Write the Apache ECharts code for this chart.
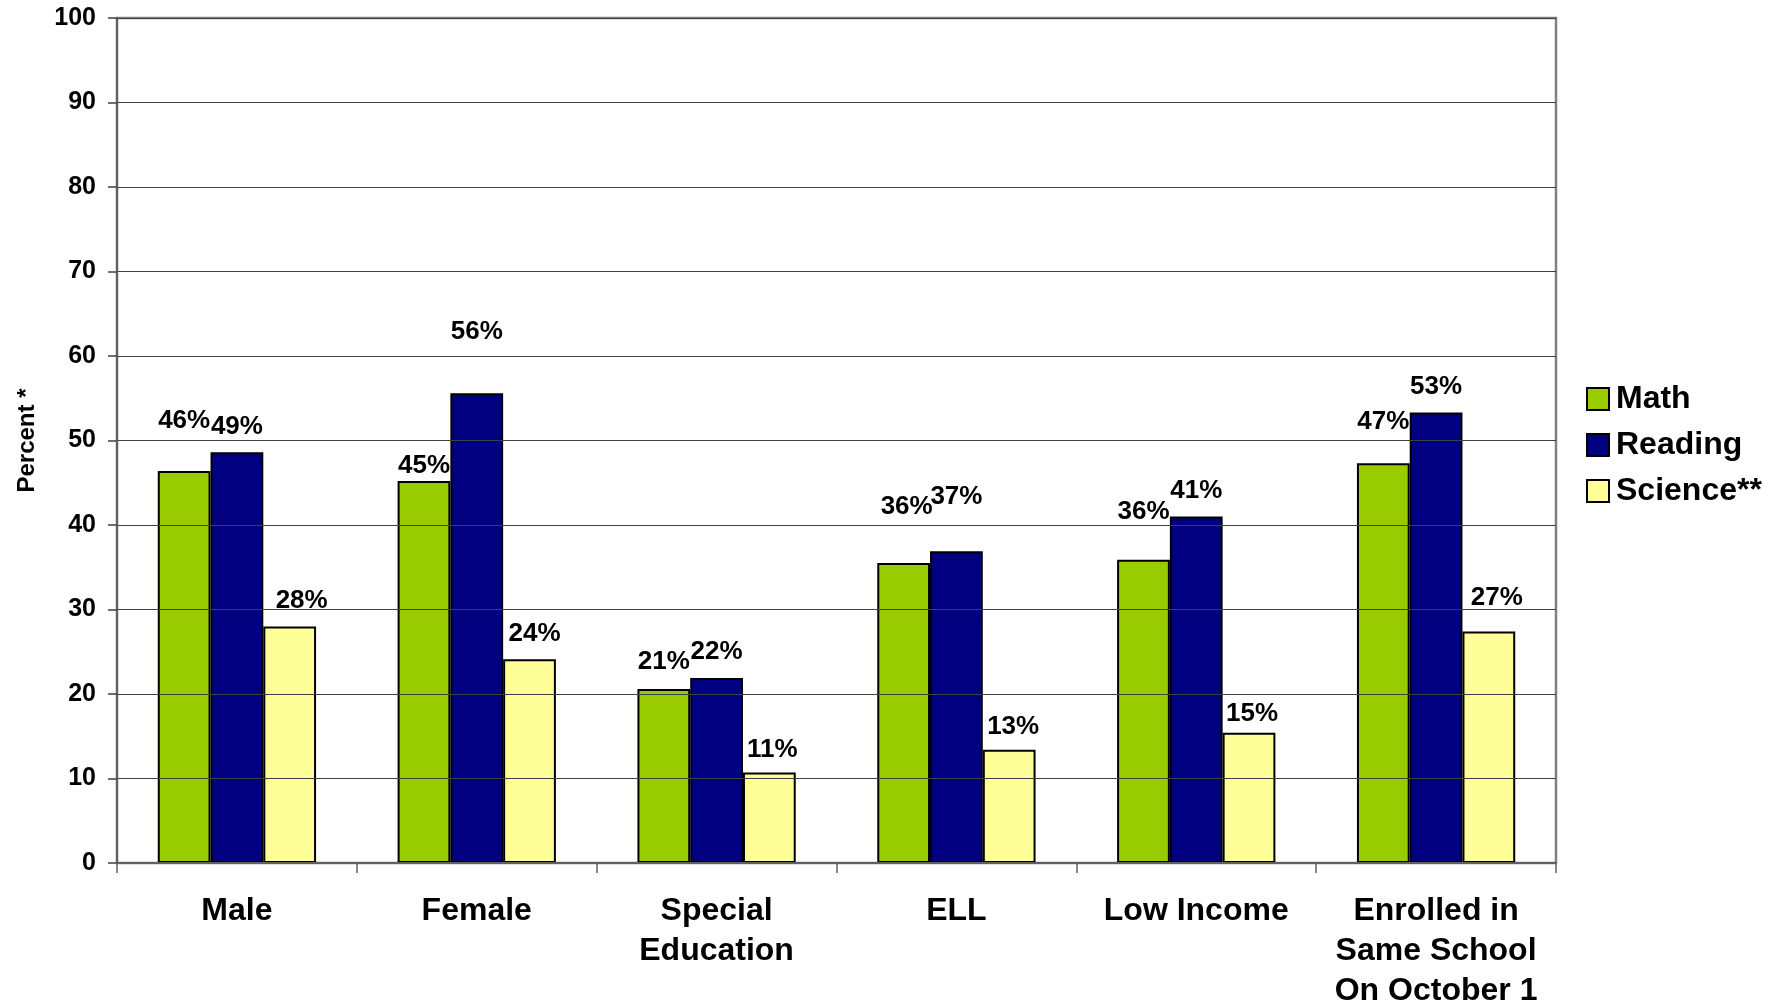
<!DOCTYPE html>
<html>
<head>
<meta charset="utf-8">
<script src="https://cdn.jsdelivr.net/npm/echarts@6/dist/echarts.min.js"></script>
<style>
html,body{margin:0;padding:0;background:#fff;}
#chart{width:1780px;height:1006px;}
</style>
</head>
<body>
<div id="chart"></div>
<script>
// ---- data ----
var categories = ['Male', 'Female', 'Special\nEducation', 'ELL', 'Low Income', 'Enrolled in\nSame School\nOn October 1'];
var seriesNames = ['Math', 'Reading', 'Science**'];
var mathValues = [46.4, 45.2, 20.6, 35.5, 35.9, 47.3];
var readingValues = [48.6, 55.6, 21.9, 36.9, 41.0, 53.3];
var scienceValues = [28.0, 24.1, 10.7, 13.4, 15.4, 27.4];
var yTicks = [0, 10, 20, 30, 40, 50, 60, 70, 80, 90, 100];

// ---- styles (label nudges, pixels) ----
var colors = ['#99CC00', '#000080', '#FFFF99'];
var labelRaise = [
  [24, -11, 1, 30, 22, 15],
  [0, 35, 0, 28, 0, 0],
  [0, 0, -3, -3, -7, 8]
];
var labelShift = [
  [0, 0, 0, 3, 0, 0],
  [0, 0, 0, 0, 0, 0],
  [12, 5, 3, 4, 3, 8]
];

var FONT = '"Liberation Sans", Arial, sans-serif';
var allValues = [mathValues, readingValues, scienceValues];

var series = allValues.map(function (vals, si) {
  return {
    name: seriesNames[si],
    type: 'bar',
    barGap: '0%',
    barCategoryGap: '34%',
    itemStyle: { color: colors[si], borderColor: '#000', borderWidth: 2 },
    label: {
      show: true,
      position: 'top',
      distance: 13,
      color: '#000',
      fontFamily: FONT,
      fontWeight: 'bold',
      fontSize: 26,
      formatter: function (p) { return Math.round(p.value) + '%'; }
    },
    data: vals.map(function (v, i) {
      return { value: v, label: { offset: [labelShift[si][i], -labelRaise[si][i]] } };
    }),
    z: 3
  };
});

var chart = echarts.init(document.getElementById('chart'), null, { renderer: 'canvas' });
chart.setOption({
  backgroundColor: '#fff',
  animation: false,
  textStyle: { fontFamily: FONT },
  grid: {
    left: 117, right: 224, top: 18, bottom: 143,
    containLabel: false,
    outerBoundsMode: 'none',
    show: true, borderColor: '#808080', borderWidth: 2.5, backgroundColor: 'transparent'
  },
  legend: {
    orient: 'vertical',
    left: 1581,
    top: 378,
    icon: 'rect',
    itemWidth: 22,
    itemHeight: 22,
    itemGap: 14,
    itemStyle: { borderColor: '#000', borderWidth: 2 },
    textStyle: { fontFamily: FONT, fontWeight: 'bold', fontSize: 32, color: '#000', lineHeight: 32, padding: [0, 0, 0, 2] },
    data: seriesNames
  },
  xAxis: {
    type: 'category',
    data: categories,
    axisLine: { show: true, lineStyle: { color: '#606060', width: 2 } },
    axisTick: { show: true, length: 10, lineStyle: { color: '#606060', width: 1.5 } },
    axisLabel: {
      interval: 0,
      margin: 28,
      color: '#000',
      fontFamily: FONT,
      fontWeight: 'bold',
      fontSize: 32,
      lineHeight: 40
    },
    splitLine: { show: false },
    z: 5
  },
  yAxis: {
    type: 'value',
    min: yTicks[0],
    max: yTicks[yTicks.length - 1],
    interval: yTicks[1] - yTicks[0],
    name: 'Percent *',
    nameLocation: 'middle',
    nameGap: 78,
    nameRotate: 90,
    nameTextStyle: { fontFamily: FONT, fontWeight: 'bold', fontSize: 24, color: '#000' },
    axisLine: { show: true, lineStyle: { color: '#606060', width: 2 } },
    axisTick: { show: true, length: 9, lineStyle: { color: '#404040', width: 1.5 } },
    axisLabel: {
      margin: 21,
      color: '#000',
      fontFamily: FONT,
      fontWeight: 'bold',
      fontSize: 25
    },
    splitLine: { show: true, lineStyle: { color: '#404040', width: 1.2 } },
    z: 5
  },
  series: series
});
</script>
</body>
</html>
